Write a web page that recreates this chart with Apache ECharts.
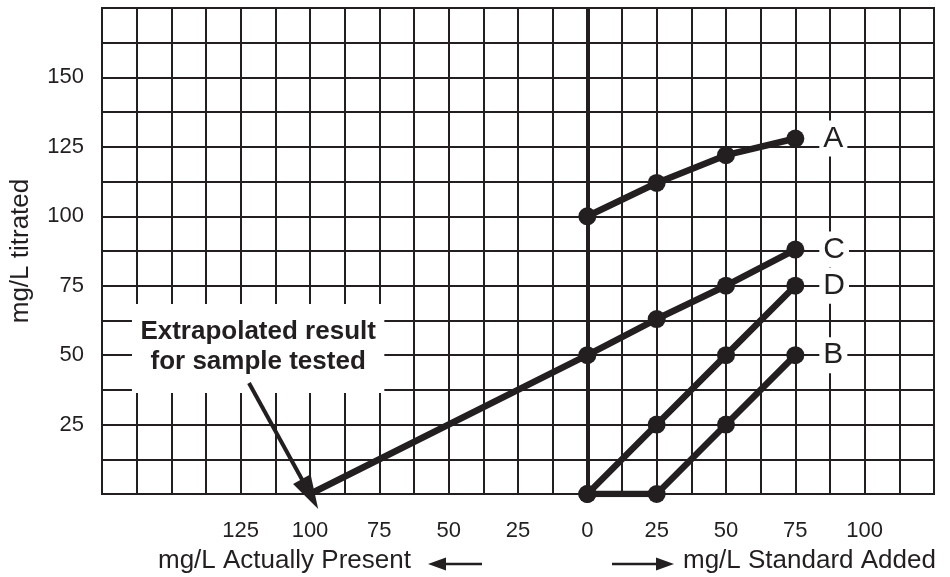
<!DOCTYPE html>
<html>
<head>
<meta charset="utf-8">
<script src="https://cdn.jsdelivr.net/npm/echarts@6/dist/echarts.min.js"></script>
<style>
html,body{margin:0;padding:0;background:#fff;}
#c{width:950px;height:577px;}
</style>
</head>
<body>
<div id="c"></div>
<script>
// ---- data ----
const standardAdded = [0, 25, 50, 75];
const seriesA = [100, 112, 122, 128];
const seriesB = [0, 0, 25, 50];
const seriesC = [50, 63, 75, 88];
const seriesD = [0, 25, 50, 75];
const extrapolatedResult = -100;           // mg/L actually present (left side)
const xTickLabels = [-125, -100, -75, -50, -25, 0, 25, 50, 75, 100];
const yTickLabels = [25, 50, 75, 100, 125, 150];
const annotationLines = ['Extrapolated result', 'for sample tested'];
const arrowStart = [-122, 40];
const annotationCenter = [-118.7, 53];
const annotationBox = [[-164.2, 68.4], [-73.2, 36.4]];
const yTitle = 'mg/L titrated';
const xTitleLeft = 'mg/L Actually Present';
const xTitleRight = 'mg/L Standard Added';

const INK = '#231f20';
const FONT = '"Liberation Sans", Arial, Helvetica, sans-serif';

function buildData(vals, name) {
  return vals.map((v, i) => {
    const pt = [standardAdded[i], v];
    if (i === vals.length - 1) {
      return {
        value: pt,
        label: {
          show: true, formatter: name, position: 'right', distance: 15,
          fontSize: 30, fontFamily: FONT, color: INK,
          backgroundColor: '#fff', padding: [3, 4, 3, 4]
        }
      };
    }
    return pt;
  });
}

const lineStyle = { color: INK, width: 6.5 };
const itemStyle = { color: INK };

const cData = buildData(seriesC, 'C');
cData.unshift({ value: [extrapolatedResult, 0], symbol: 'none' });

const chart = echarts.init(document.getElementById('c'));
chart.setOption({
  animation: false,
  backgroundColor: '#fff',
  grid: { left: 100, right: 16, top: 8, bottom: 83, show: true, borderColor: INK, borderWidth: 2, backgroundColor: 'transparent' },
  xAxis: {
    type: 'value', min: -175, max: 125, interval: 12.5,
    axisLine: { show: false }, axisTick: { show: false },
    splitLine: { show: true, lineStyle: { color: INK, width: 2 } },
    axisLabel: {
      margin: 26, fontSize: 22, fontFamily: FONT, color: INK,
      formatter: v => xTickLabels.indexOf(v) >= 0 ? String(Math.abs(v)) : ''
    }
  },
  yAxis: {
    type: 'value', min: 0, max: 175, interval: 12.5,
    axisLine: { show: false }, axisTick: { show: false },
    splitLine: { show: true, lineStyle: { color: INK, width: 2 } },
    axisLabel: {
      margin: 18, fontSize: 22, fontFamily: FONT, color: INK,
      formatter: v => yTickLabels.indexOf(v) >= 0 ? String(v) : ''
    },
    name: yTitle, nameLocation: 'middle', nameGap: 68, nameRotate: 90,
    nameTextStyle: { fontSize: 26, fontFamily: FONT, color: INK }
  },
  series: [
    {
      type: 'line', z: 1, data: [], silent: true,
      markLine: {
        silent: true, symbol: 'none', label: { show: false },
        lineStyle: { color: INK, width: 4, type: 'solid' },
        data: [{ xAxis: 0 }]
      }
    },
    { type: 'line', name: 'A', data: buildData(seriesA, 'A'), symbol: 'circle', symbolSize: 18, lineStyle, itemStyle },
    { type: 'line', name: 'B', data: buildData(seriesB, 'B'), symbol: 'circle', symbolSize: 18, lineStyle, itemStyle },
    { type: 'line', name: 'C', data: cData, symbol: 'circle', symbolSize: 18, lineStyle, itemStyle },
    { type: 'line', name: 'D', data: buildData(seriesD, 'D'), symbol: 'circle', symbolSize: 18, lineStyle, itemStyle },
    {
      type: 'line', z: 3, data: [], silent: true,
      markArea: {
        silent: true,
        itemStyle: { color: '#fff', opacity: 1 },
        label: { show: false },
        data: [[{ coord: annotationBox[0] }, { coord: annotationBox[1] }]]
      },
      markPoint: {
        silent: true,
        data: [{
          coord: annotationCenter, symbol: 'rect', symbolSize: [1, 1],
          itemStyle: { color: 'rgba(0,0,0,0)' },
          label: {
            show: true, position: 'inside', formatter: annotationLines.join('\n'),
            fontSize: 26, fontWeight: 'bold', fontFamily: FONT, color: INK,
            lineHeight: 30, align: 'center'
          }
        }]
      }
    },
    {
      type: 'line', z: 5, data: [], silent: true,
      markLine: {
        silent: true, symbol: ['none', 'triangle'], symbolSize: [20, 34],
        label: { show: false },
        lineStyle: { color: INK, width: 4, type: 'solid' },
        data: [[{ coord: arrowStart }, { coord: [extrapolatedResult, 0] }]]
      }
    }
  ],
  graphic: [
    { type: 'text', left: 158, top: 548, style: { text: xTitleLeft, font: '26px ' + FONT, fill: INK } },
    { type: 'line', shape: { x1: 440, y1: 564, x2: 482, y2: 564 }, style: { stroke: INK, lineWidth: 2.5 } },
    { type: 'polygon', shape: { points: [[428, 564], [446, 557.5], [446, 570.5]] }, style: { fill: INK } },
    { type: 'line', shape: { x1: 612, y1: 564, x2: 662, y2: 564 }, style: { stroke: INK, lineWidth: 2.5 } },
    { type: 'polygon', shape: { points: [[674, 564], [656, 557.5], [656, 570.5]] }, style: { fill: INK } },
    { type: 'text', left: 683, top: 548, style: { text: xTitleRight, font: '26px ' + FONT, fill: INK } }
  ]
});
</script>
</body>
</html>
